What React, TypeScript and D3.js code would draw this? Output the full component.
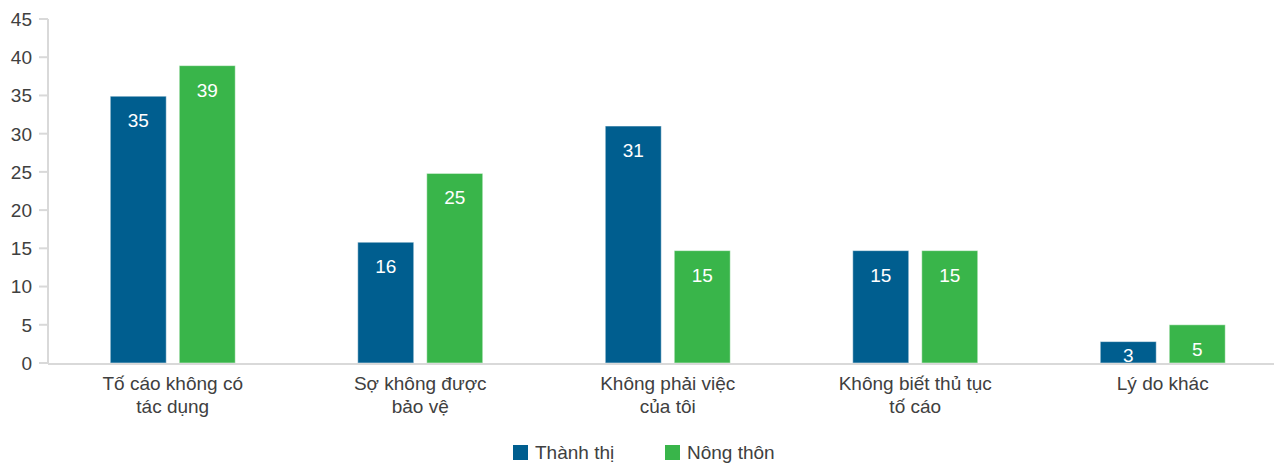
import React from "react";
import * as d3 from "d3";

const categories = [
  ["Tố cáo không có", "tác dụng"],
  ["Sợ không được", "bảo vệ"],
  ["Không phải việc", "của tôi"],
  ["Không biết thủ tục", "tố cáo"],
  ["Lý do khác"],
];
const seriesNames = ["Thành thị", "Nông thôn"];
const urban = [34.9, 15.8, 31.0, 14.7, 2.8];
const rural = [38.9, 24.8, 14.7, 14.7, 5.0];
const yTicks = [0, 5, 10, 15, 20, 25, 30, 35, 40, 45];
const colors = ["#005e8f", "#39b54a"];

const W = 1274;
const H = 464;
const FONT = "'Liberation Sans', Arial, sans-serif";

export default function App() {
  const x = d3
    .scaleBand<number>()
    .domain(d3.range(categories.length))
    .range([49, 1286.5]);
  const y = d3.scaleLinear().domain([0, 45]).range([363, 19]);
  const barW = 56;
  const gap = 13;
  const series = [urban, rural];
  const fmt = d3.format(".0f");

  return (
    <svg
      width={W}
      height={H}
      style={{ position: "absolute", left: 0, top: 0, background: "#fff" }}
      fontFamily={FONT}
    >
      {/* y axis line */}
      <line x1={48} x2={48} y1={y(45)} y2={y(0)} stroke="#d9d9d9" strokeWidth={2} />
      {yTicks.map((t) => (
        <g key={t}>
          <line x1={39} x2={48} y1={y(t)} y2={y(t)} stroke="#d9d9d9" strokeWidth={2} />
          <text
            x={32}
            y={y(t)}
            dy="0.36em"
            textAnchor="end"
            fontSize={19}
            fill="#404040"
          >
            {t}
          </text>
        </g>
      ))}
      {/* bars */}
      {series.map((vals, si) =>
        vals.map((v, i) => {
          const c = (x(i) as number) + x.bandwidth() / 2;
          const groupW = barW * 2 + gap;
          const bx = c - groupW / 2 + si * (barW + gap);
          const top = y(v);
          return (
            <g key={`${si}-${i}`}>
              <rect
                x={bx}
                y={top}
                width={barW}
                height={y(0) - top}
                fill={colors[si]}
                stroke="#ffffff"
                strokeOpacity={0.5}
                strokeWidth={1}
              />
              <text
                x={bx + barW / 2}
                y={Math.min(top + 31, y(0) - 1)}
                textAnchor="middle"
                fontSize={19}
                fill="#ffffff"
              >
                {fmt(v)}
              </text>
            </g>
          );
        })
      )}
      {/* baseline */}
      <line x1={48} x2={W} y1={y(0) + 1} y2={y(0) + 1} stroke="#d9d9d9" strokeWidth={2} />
      {/* category labels */}
      {categories.map((lines, i) => {
        const c = (x(i) as number) + x.bandwidth() / 2;
        return (
          <text key={i} textAnchor="middle" fontSize={19} fill="#404040">
            {lines.map((l, li) => (
              <tspan key={li} x={c} y={390 + li * 23}>
                {l}
              </tspan>
            ))}
          </text>
        );
      })}
      {/* legend */}
      {seriesNames.map((n, si) => {
        const lx = 513 + si * 152;
        return (
          <g key={n}>
            <rect x={lx} y={445} width={15} height={15} fill={colors[si]} />
            <text x={lx + 22} y={459} fontSize={19} fill="#404040">
              {n}
            </text>
          </g>
        );
      })}
    </svg>
  );
}
